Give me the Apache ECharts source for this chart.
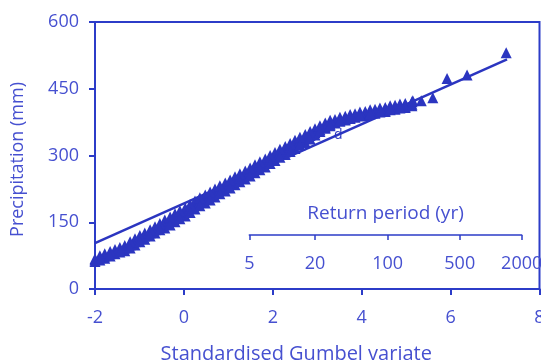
<!DOCTYPE html>
<html>
<head>
<meta charset="utf-8">
<script src="https://cdn.jsdelivr.net/npm/echarts@6/dist/echarts.min.js"></script>
<style>html,body{margin:0;padding:0;background:#fff}#c{width:541px;height:363px}</style>
</head>
<body>
<div id="c"></div>
<script>
const obsVariateA = [-2.00,-1.78,-1.55,-1.33,-1.10,-0.88,-0.65,-0.43,-0.20,0.03,0.25,0.48,0.70,0.93,1.15,1.38,1.60,1.83,2.05,2.28,2.50,2.73,2.95,3.18,3.40,3.63,3.85,4.08,4.30,4.53,4.75,4.98,5.13];
const obsPrecipA1 = [65,74,84,92,106,119,133,146,160,173,189,202,216,229,243,256,270,283,298,311,325,338,351,364,375,382,388,393,398,402,407,411,415];
const obsPrecipA2 = [68,79,89,98,113,126,140,155,169,182,198,211,225,238,252,265,279,292,307,320,334,347,360,373,381,388,394,399,404,408,413,417,421];
const obsPrecipA3 = [62,69,79,86,99,112,126,137,151,164,180,193,207,220,234,247,261,274,289,302,316,329,346,361,373,380,386,390,395,399,404,408,412];
const obsVariateB = [-1.89,-1.66,-1.44,-1.21,-0.99,-0.76,-0.54,-0.31,-0.09,0.14,0.36,0.59,0.81,1.04,1.26,1.49,1.71,1.94,2.16,2.39,2.61,2.84,3.06,3.29,3.51,3.74,3.96,4.19,4.41,4.64,4.86];
const obsPrecipB1 = [70,79,88,99,113,126,140,153,167,181,196,209,223,236,250,263,277,291,305,318,332,345,358,370,379,385,391,396,400,405,409];
const obsPrecipB2 = [75,84,93,106,120,133,147,162,176,190,205,218,232,245,259,272,286,300,314,327,341,354,367,379,386,392,398,403,407,412,416];
const obsPrecipB3 = [65,74,83,92,106,119,133,144,158,172,187,200,214,227,241,254,268,282,296,309,323,337,354,367,377,383,389,394,398,403,407];
// Largest observations (upper tail)
const tailVariate = [5.15,5.34,5.60,5.92,6.37,7.25];
const tailPrecip = [423,423,430,473,481,531];
// Fitted Gumbel line
const fitVariate = [-2, 7.27];
const fitPrecip = [103, 516];
// Return period axis
const returnPeriods = [5, 20, 100, 500, 2000];
const returnLabels = ['5', '20', '100', '500', '2000'];
// Main axis ticks
const xTicks = [-2, 0, 2, 4, 6, 8];
const yTicks = [0, 150, 300, 450, 600];

const gumbelOf = T => -Math.log(-Math.log(1 - 1 / T));
const rpPos = returnPeriods.map(gumbelOf);

const pairs = (xs, ys) => xs.map((x, i) => [x, ys[i]]);
const observed = [].concat(
  pairs(obsVariateA, obsPrecipA1), pairs(obsVariateA, obsPrecipA2), pairs(obsVariateA, obsPrecipA3),
  pairs(obsVariateB, obsPrecipB1), pairs(obsVariateB, obsPrecipB2), pairs(obsVariateB, obsPrecipB3),
  pairs(tailVariate, tailPrecip)
);

const LINE = '#2c3cc8';
const TEXT = '#4650d0';
const MARK = '#2b35c0';
const FONT = '"Open Sans", "Noto Sans", sans-serif';

const chart = echarts.init(document.getElementById('c'), null, {renderer: 'canvas'});
chart.setOption({
  animation: false,
  backgroundColor: '#fff',
  textStyle: {fontFamily: FONT},
  grid: [
    {left: 95, top: 22, width: 444.5, height: 267, show: true, borderColor: LINE, borderWidth: 2,
     backgroundColor: 'transparent', containLabel: false, outerBoundsMode: 'none'},
    {left: 249.3, top: 234, width: 272.4, height: 1, containLabel: false, outerBoundsMode: 'none'}
  ],
  xAxis: [
    {
      type: 'value', gridIndex: 0, min: xTicks[0], max: xTicks[xTicks.length - 1], interval: 2,
      name: 'Standardised Gumbel variate', nameLocation: 'middle', nameGap: 55,
      nameTextStyle: {color: TEXT, fontSize: 20, fontFamily: FONT, padding: [0, 42, 0, 0]},
      axisLine: {show: true, onZero: false, lineStyle: {color: LINE, width: 2}},
      axisTick: {show: true, length: 6, lineStyle: {color: LINE, width: 2}},
      axisLabel: {color: TEXT, fontSize: 18, margin: 20, fontFamily: FONT},
      splitLine: {show: false}
    },
    {
      type: 'value', gridIndex: 1, min: rpPos[0], max: rpPos[rpPos.length - 1],
      name: 'Return period (yr)', nameLocation: 'middle', nameGap: -31,
      nameTextStyle: {color: TEXT, fontSize: 19, fontFamily: FONT},
      axisLine: {show: true, onZero: false, lineStyle: {color: LINE, width: 1.5}},
      axisTick: {show: true, length: 5, customValues: rpPos, lineStyle: {color: LINE, width: 1.5}},
      axisLabel: {
        color: TEXT, fontSize: 18, margin: 20, fontFamily: FONT, customValues: rpPos,
        formatter: v => {
          let best = 0;
          rpPos.forEach((p, i) => { if (Math.abs(p - v) < Math.abs(rpPos[best] - v)) best = i; });
          return returnLabels[best];
        }
      },
      splitLine: {show: false}
    }
  ],
  yAxis: [
    {
      type: 'value', gridIndex: 0, min: yTicks[0], max: yTicks[yTicks.length - 1], interval: 150,
      name: 'Precipitation (mm)', nameLocation: 'middle', nameGap: 68, nameRotate: 90,
      nameTextStyle: {color: TEXT, fontSize: 18, fontFamily: FONT, padding: [0, 8, 0, 0]},
      axisLine: {show: true, onZero: false, lineStyle: {color: LINE, width: 2}},
      axisTick: {show: true, length: 6, lineStyle: {color: LINE, width: 2}},
      axisLabel: {color: TEXT, fontSize: 18, margin: 16, fontFamily: FONT},
      splitLine: {show: false}
    },
    {type: 'value', gridIndex: 1, show: false, min: 0, max: 1}
  ],
  series: [
    {
      type: 'line', xAxisIndex: 0, yAxisIndex: 0, showSymbol: false, symbol: 'none',
      data: pairs(fitVariate, fitPrecip),
      lineStyle: {color: MARK, width: 2.5}, z: 3
    },
    {
      type: 'scatter', xAxisIndex: 0, yAxisIndex: 0, symbol: 'triangle', symbolSize: 11,
      itemStyle: {color: MARK, opacity: 1}, clip: false,
      data: observed, z: 4
    }
  ],
  graphic: [
    {type: 'text', left: 334, top: 128, z: 100, style: {text: 'd', fill: MARK, font: '14px ' + FONT}}
  ]
});
</script>
</body>
</html>
